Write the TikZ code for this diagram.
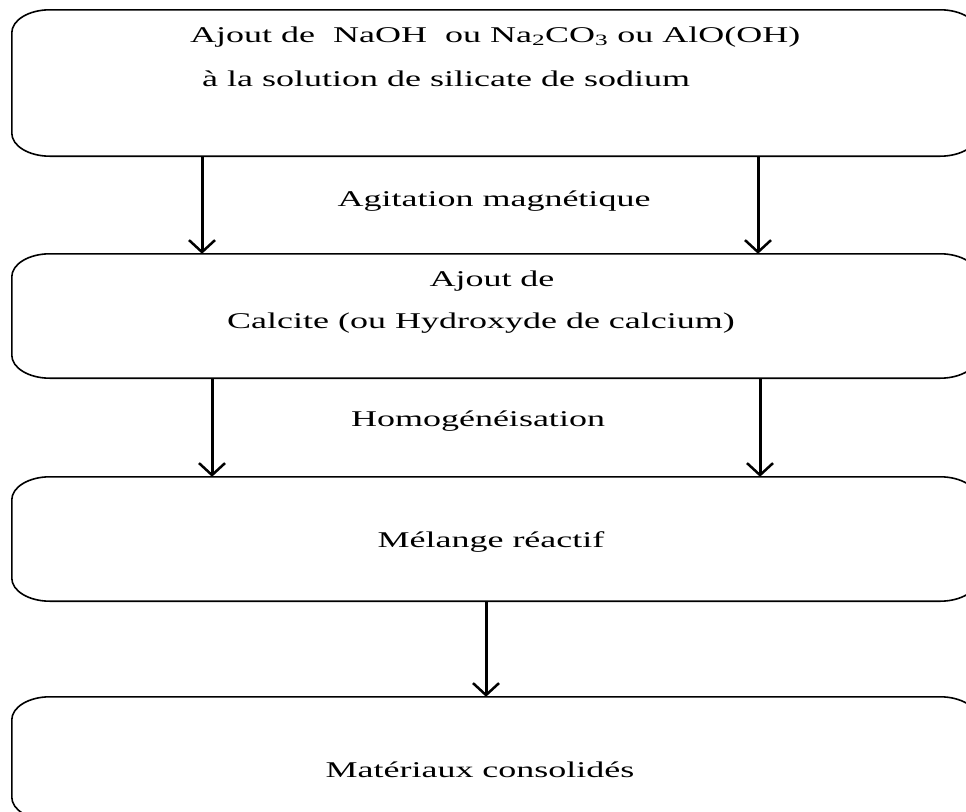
\documentclass[tikz,border=0pt]{standalone}
\usepackage{fontspec}
\setmainfont[FakeStretch=1.6]{Liberation Serif}
\usetikzlibrary{arrows.meta}
\tikzset{
  x=1pt, y=1pt,
  area/.style={draw=none, inner sep=0pt, minimum width=966pt},
  boxline/.style={line width=1.6pt},
  flow/.style={line width=3pt, -{Straight Barb[length=12pt,width=26pt,line width=2.5pt]}},
  lbl/.style={font=\fontsize{22.5}{27}\selectfont, inner sep=0pt},
}
\newcommand\ebox[1]{%
  \draw[boxline] ([xshift=38pt]#1.north west) -- ([xshift=-38pt]#1.north east)
    arc[start angle=90,end angle=0,x radius=38pt,y radius=23pt]
    -- ([yshift=23pt]#1.south east)
    arc[start angle=0,end angle=-90,x radius=38pt,y radius=23pt]
    -- ([xshift=38pt]#1.south west)
    arc[start angle=270,end angle=180,x radius=38pt,y radius=23pt]
    -- ([yshift=-23pt]#1.north west)
    arc[start angle=180,end angle=90,x radius=38pt,y radius=23pt] -- cycle;}
\begin{document}
\begin{tikzpicture}
\useasboundingbox (0,0) rectangle (966,-811);
\clip (0,0) rectangle (966,-811);
\node[area, minimum height=146pt] (b1) at (495,-83) {};
\node[area, minimum height=124pt] (b2) at (495,-316) {};
\node[area, minimum height=124pt] (b3) at (495,-539) {};
\node[area, minimum height=123pt] (b4) at (495,-758.5) {};
\ebox{b1}\ebox{b2}\ebox{b3}\ebox{b4}
\node[lbl, anchor=base west] (t1a) at (190,-42) {Ajout de\ \ NaOH\ \ ou Na\textsubscript{2}CO\textsubscript{3} ou AlO(OH)};
\node[lbl, anchor=base west] (t1b) at (202,-86) {à la solution de silicate de sodium};
\node[lbl, anchor=base] (l1) at (494,-206) {Agitation magnétique};
\node[lbl, anchor=base] (t2a) at (492,-286) {Ajout de};
\node[lbl, anchor=base] (t2b) at (481,-328) {Calcite (ou Hydroxyde de calcium)};
\node[lbl, anchor=base] (l2) at (478,-426) {Homogénéisation};
\node[lbl, anchor=base] (t3) at (491,-547) {Mélange réactif};
\node[lbl, anchor=base] (t4) at (480,-777) {Matériaux consolidés};
\draw[flow] (202,0 |- b1.south) -- (202,0 |- b2.north);
\draw[flow] (758,0 |- b1.south) -- (758,0 |- b2.north);
\draw[flow] (212,0 |- b2.south) -- (212,0 |- b3.north);
\draw[flow] (760,0 |- b2.south) -- (760,0 |- b3.north);
\draw[flow] (486,0 |- b3.south) -- (486,0 |- b4.north);
\end{tikzpicture}
\end{document}
